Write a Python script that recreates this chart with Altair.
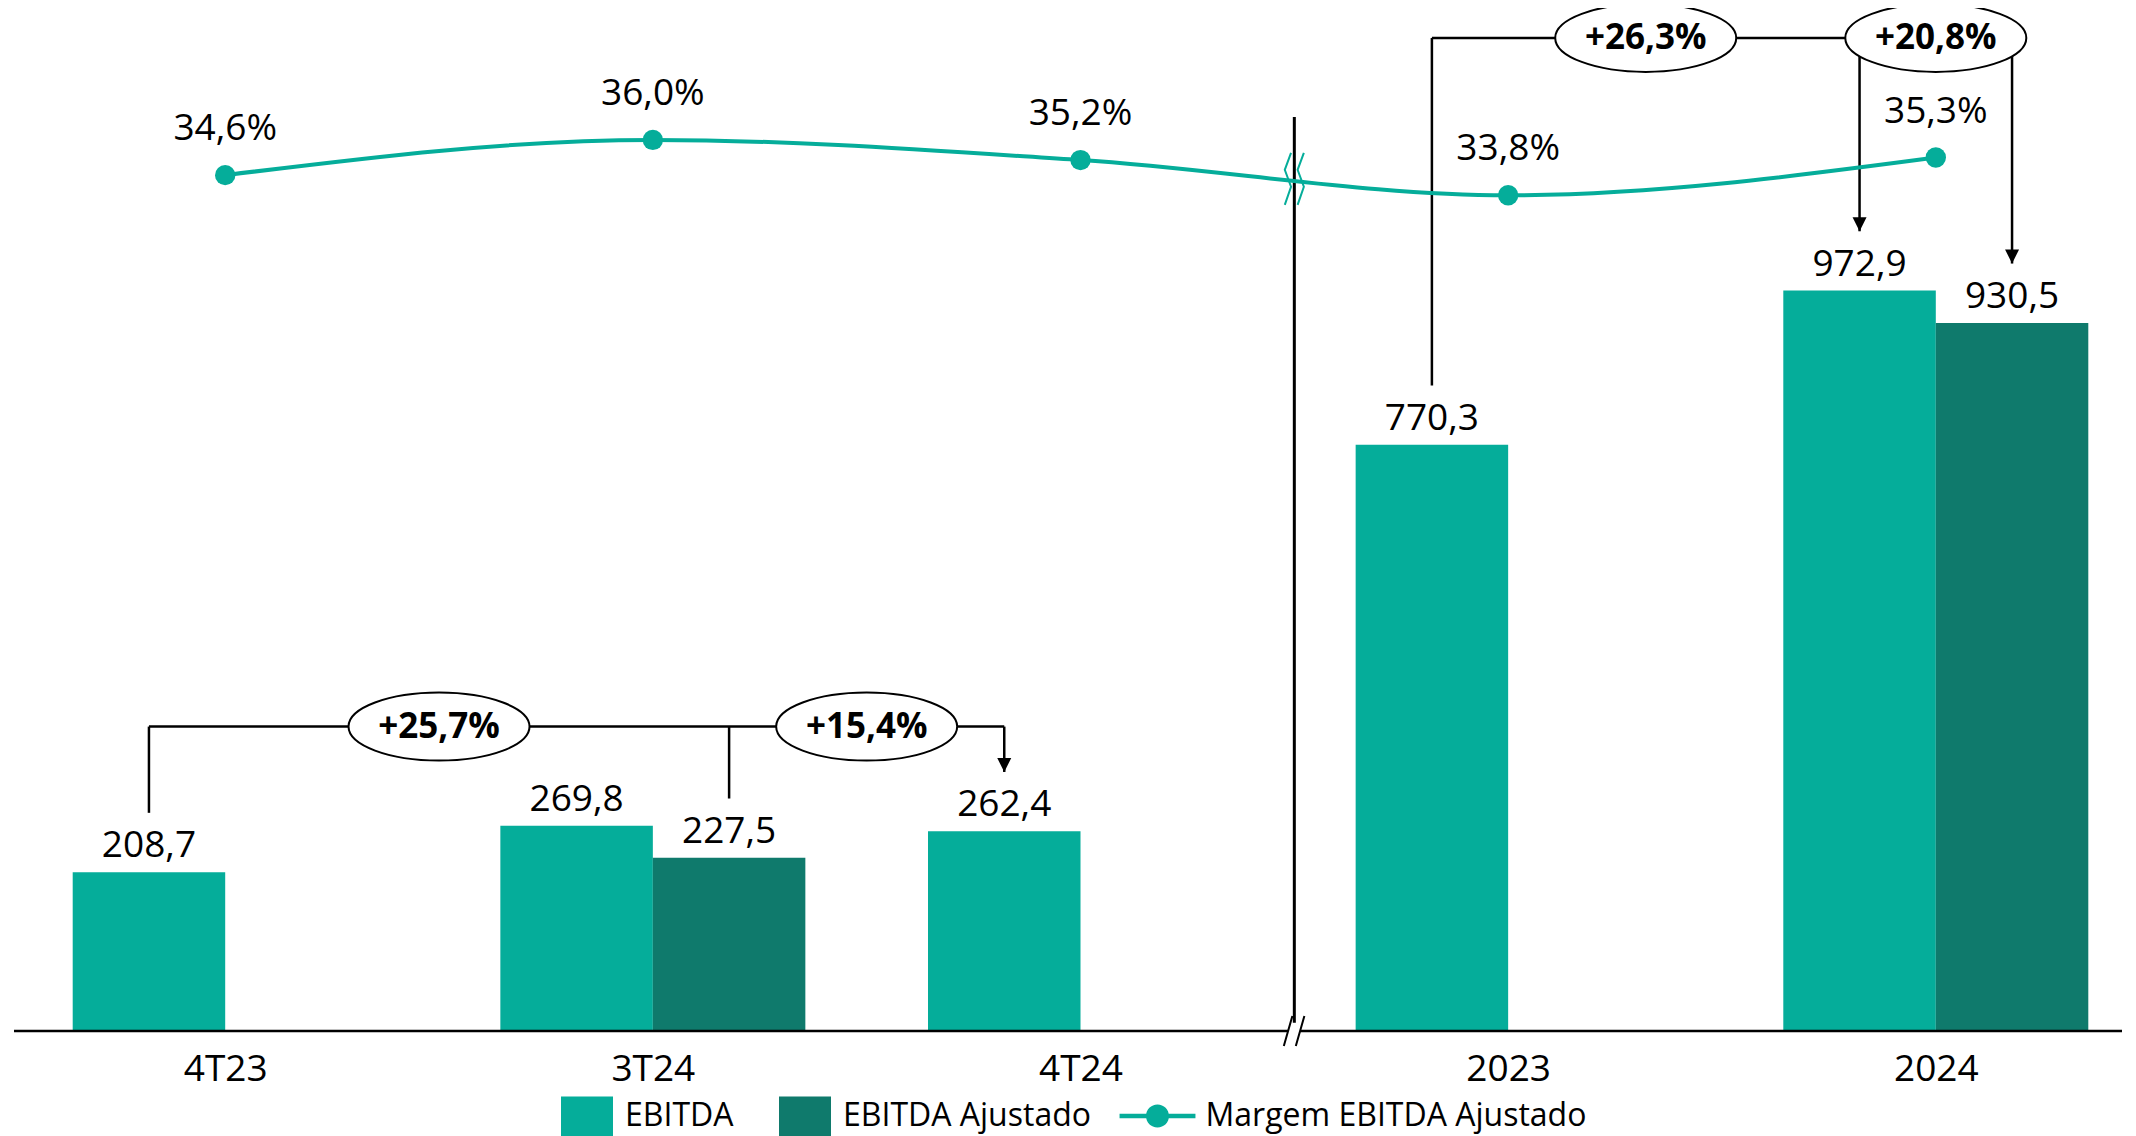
import json
import altair as alt
import pandas as pd

# ---------------- data ----------------
categorias = ["4T23", "3T24", "4T24", "2023", "2024"]
series = ["EBITDA", "EBITDA Ajustado"]
ebitda = [208.7, 269.8, 262.4, 770.3, 972.9]
ebitda_ajustado = [None, 227.5, None, None, 930.5]
serie_margem = "Margem EBITDA Ajustado"
margem_ajustada = [34.6, 36.0, 35.2, 33.8, 35.3]
variacoes = ["+25,7%", "+15,4%", "+26,3%", "+20,8%"]
# which bars each bracket joins (category, series) and which ones get an arrow
chave_barras = [
    [("4T23", "EBITDA"), ("3T24", "EBITDA Ajustado"), ("4T24", "EBITDA")],
    [("2023", "EBITDA"), ("2024", "EBITDA"), ("2024", "EBITDA Ajustado")],
]
chave_setas = [
    [("4T24", "EBITDA")],
    [("2024", "EBITDA"), ("2024", "EBITDA Ajustado")],
]

# ---------------- layout / style ----------------
FONT = "Open Sans"
TEAL = "#05AD9A"
DARK = "#0F7A6C"
W, H = 2108, 1021
STEP = 427.65
XMIN = (14 - 225.2) / STEP
XMAX = XMIN + W / STEP
BW = 152.5 / STEP
YMAX = H / 0.761
M0, M1 = 0.598, 41.162
CHAVE_NIVEL = [400, 1305]
GAP = 78
BREAK_X = 2.5
BREAK_TOP = 1201
BREAK_LINE_Y = 34.45

XS = alt.Scale(domain=[XMIN, XMAX], nice=False, zero=False)
YS = alt.Scale(domain=[0, YMAX], nice=False, zero=False)
MS = alt.Scale(domain=[M0, M1], nice=False, zero=False)

label_expr = json.dumps(categorias) + "[datum.value]"
XAXIS = alt.Axis(values=list(range(len(categorias))), labelExpr=label_expr,
                 domain=False, ticks=False, tickSize=0, grid=False,
                 labelFont=FONT, labelFontSize=37, labelColor="black",
                 labelBaseline="alphabetic", labelPadding=49,
                 labelFlush=False, labelOverlap=False, title=None)


def X(field):
    return alt.X(field, scale=XS, axis=XAXIS, title=None)


def fmt(v):
    return f"{v:.1f}".replace(".", ",")


def bar_center(cat, serie):
    i = categorias.index(cat)
    return i - BW / 2 if serie == series[0] else i + BW / 2


def bar_value(cat, serie):
    i = categorias.index(cat)
    return ebitda[i] if serie == series[0] else ebitda_ajustado[i]


rows = []
for i, c in enumerate(categorias):
    for s, vals in zip(series, [ebitda, ebitda_ajustado]):
        v = vals[i]
        if v is None:
            continue
        x0 = i - BW if s == series[0] else i
        rows.append({"cat": c, "serie": s, "valor": v, "base": 0, "x0": x0,
                     "x1": x0 + BW, "xc": x0 + BW / 2, "rotulo": fmt(v)})
bars_df = pd.DataFrame(rows)

margem_df = pd.DataFrame({
    "idx": list(range(len(categorias))),
    "margem": margem_ajustada,
    "rotulo": [fmt(m) + "%" for m in margem_ajustada],
    "serie": [serie_margem] * len(categorias),
})

h_rows, v_rows, a_rows, e_rows = [], [], [], []
k = 0
for g, barras in enumerate(chave_barras):
    nivel = CHAVE_NIVEL[g]
    xs = [bar_center(c, s) for c, s in barras]
    h_rows.append({"x0": min(xs), "x1": max(xs), "y": nivel})
    for (c, s), x in zip(barras, xs):
        v_rows.append({"x": x, "y": nivel, "y2": bar_value(c, s) + GAP})
    for c, s in chave_setas[g]:
        a_rows.append({"x": bar_center(c, s), "y": bar_value(c, s) + GAP})
    for j in range(len(xs) - 1):
        e_rows.append({"x": (xs[j] + xs[j + 1]) / 2, "y": nivel, "rotulo": variacoes[k]})
        k += 1
h_df = pd.DataFrame(h_rows)
v_df = pd.DataFrame(v_rows)
a_df = pd.DataFrame(a_rows)
e_df = pd.DataFrame(e_rows)

ELLIPSE = "M-2.662,0A2.662,1,0,1,0,2.662,0A2.662,1,0,1,0,-2.662,0Z"
TRI = "M-1,-2L1,-2L0,0Z"
RECT = "M-1,-0.77L1,-0.77L1,0.77L-1,0.77Z"
LINESYM = "M-3.3,-0.2L3.3,-0.2L3.3,0.2L-3.3,0.2Z M1,0A1,1,0,1,1,-1,0A1,1,0,1,1,1,0Z"
ZIG = "M0.12,-1L-0.12,-0.35L0.12,0.3L-0.12,1"
SLASH = "M-0.7,1L-0.13,-1M0.1,1L0.67,-1"
PATCH = "M-0.5,0.3L0.3,0.3L0.47,-0.3L-0.33,-0.3Z"

bars = alt.Chart(bars_df).mark_bar().encode(
    x=X("x0:Q"),
    x2="x1:Q",
    y=alt.Y("valor:Q", scale=YS, axis=None),
    y2="base:Q",
    color=alt.Color("serie:N", scale=alt.Scale(domain=series, range=[TEAL, DARK]),
                    legend=alt.Legend(title=None, orient="none", legendX=547, legendY=1080,
                                      direction="horizontal", symbolType=RECT,
                                      symbolSize=2704, symbolStrokeWidth=0,
                                      labelFont=FONT, labelFontSize=32, labelColor="black",
                                      labelOffset=12, columnPadding=45, padding=0,
                                      labelLimit=1000)),
)

bar_labels = alt.Chart(bars_df).mark_text(
    font=FONT, fontSize=37, color="black", baseline="alphabetic", dy=-15
).encode(
    x=X("xc:Q"),
    y=alt.Y("valor:Q", scale=YS, axis=None),
    text="rotulo:N",
)

sep_df = pd.DataFrame({"x": [BREAK_X], "y": [11], "y2": [BREAK_TOP]})
separator = alt.Chart(sep_df).mark_rule(color="black", strokeWidth=3).encode(
    x=X("x:Q"),
    y=alt.Y("y:Q", scale=YS, axis=None),
    y2="y2:Q",
)

base_df = pd.DataFrame({"y": [0]})
baseline = alt.Chart(base_df).mark_rule(color="black", strokeWidth=2.5).encode(
    y=alt.Y("y:Q", scale=YS, axis=None),
)

brk_df = pd.DataFrame({"x": [BREAK_X], "y": [0]})
patch = alt.Chart(brk_df).mark_point(
    shape=PATCH, size=900, filled=True, fill="white", strokeWidth=0, opacity=1
).encode(x=X("x:Q"), y=alt.Y("y:Q", scale=YS, axis=None))
slashes = alt.Chart(brk_df).mark_point(
    shape=SLASH, size=900, filled=False, stroke="black", strokeWidth=2, opacity=1
).encode(x=X("x:Q"), y=alt.Y("y:Q", scale=YS, axis=None))

h_rules = alt.Chart(h_df).mark_rule(color="black", strokeWidth=2.5).encode(
    x=X("x0:Q"), x2="x1:Q",
    y=alt.Y("y:Q", scale=YS, axis=None),
)
v_rules = alt.Chart(v_df).mark_rule(color="black", strokeWidth=2.5).encode(
    x=X("x:Q"),
    y=alt.Y("y:Q", scale=YS, axis=None), y2="y2:Q",
)
arrows = alt.Chart(a_df).mark_point(
    shape=TRI, size=196, filled=True, color="black", opacity=1
).encode(x=X("x:Q"), y=alt.Y("y:Q", scale=YS, axis=None))

line = alt.Chart(margem_df).mark_line(
    color=TEAL, strokeWidth=4, interpolate="monotone"
).encode(
    x=X("idx:Q"),
    y=alt.Y("margem:Q", scale=MS, axis=None),
)

zig_df = pd.DataFrame({"x": [BREAK_X - 0.015, BREAK_X + 0.015], "y": [BREAK_LINE_Y] * 2})
zigs = alt.Chart(zig_df).mark_point(
    shape=ZIG, size=2704, filled=False, stroke=TEAL, strokeWidth=2, opacity=1
).encode(x=X("x:Q"), y=alt.Y("y:Q", scale=MS, axis=None))

points = alt.Chart(margem_df).mark_point(
    filled=True, size=415, color=TEAL
).encode(
    x=X("idx:Q"),
    y=alt.Y("margem:Q", scale=MS, axis=None),
    opacity=alt.Opacity("serie:O", scale=alt.Scale(domain=[serie_margem], range=[1]),
                        legend=alt.Legend(title=None, orient="none", legendX=1127.5,
                                          legendY=1090, direction="horizontal",
                                          symbolType=LINESYM, symbolSize=529,
                                          symbolFillColor=TEAL, symbolStrokeWidth=0,
                                          labelFont=FONT, labelFontSize=32,
                                          labelColor="black", labelOffset=32,
                                          padding=0, labelLimit=1000)),
)

margem_labels = alt.Chart(margem_df).mark_text(
    font=FONT, fontSize=37, color="black", baseline="alphabetic", dy=-35
).encode(
    x=X("idx:Q"),
    y=alt.Y("margem:Q", scale=MS, axis=None),
    text="rotulo:N",
)

ellipses = alt.Chart(e_df).mark_point(
    shape=ELLIPSE, size=4624, filled=True, fill="white", stroke="black",
    strokeWidth=2, opacity=1
).encode(x=X("x:Q"), y=alt.Y("y:Q", scale=YS, axis=None))

ellipse_text = alt.Chart(e_df).mark_text(
    font=FONT, fontSize=35, fontWeight="bold", color="black", baseline="middle"
).encode(
    x=X("x:Q"),
    y=alt.Y("y:Q", scale=YS, axis=None),
    text="rotulo:N",
)

chart = alt.layer(
    bars, bar_labels, separator, baseline, patch, slashes,
    h_rules, v_rules, line, points, zigs, margem_labels,
    ellipses, ellipse_text, arrows,
).resolve_scale(y="independent").properties(
    width=W, height=H,
    padding={"left": 6, "top": 2, "right": 6, "bottom": 105},
    autosize=alt.AutoSizeParams(type="none"),
).configure_view(stroke=None)

chart.save("out.html", embed_options={"renderer": "svg", "actions": False})
